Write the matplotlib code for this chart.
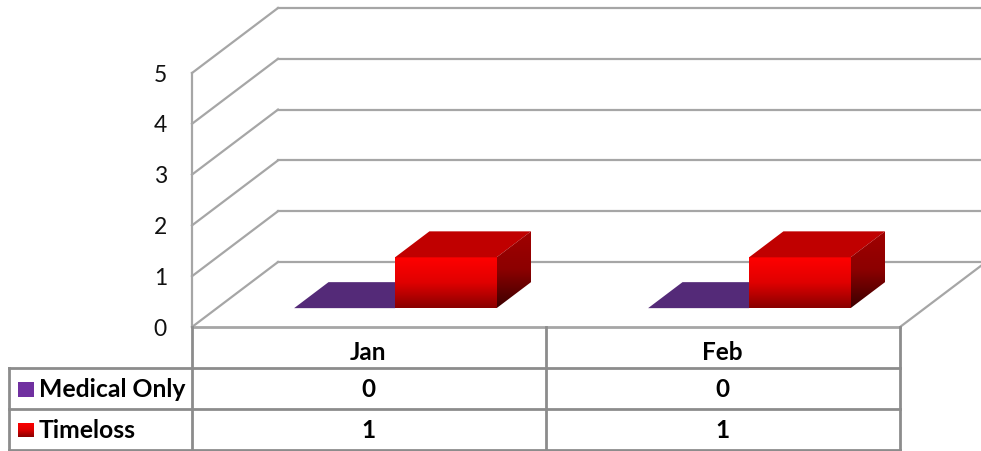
import matplotlib
matplotlib.use("Agg")
import matplotlib.pyplot as plt
from matplotlib.colors import LinearSegmentedColormap
from matplotlib.patches import Polygon
import numpy as np

plt.rcParams['font.family'] = ['Lato', 'DejaVu Sans']

categories = ["Jan", "Feb"]
series_names = ["Medical Only", "Timeloss"]
medical_only = [0, 0]
timeloss = [1, 1]
y_ticks = [0, 1, 2, 3, 4, 5]

# oblique projection settings, in pixels
X0, Y0 = 192, 327
CAT_W = 354
UNIT = 50.8
DEPTH_X, DEPTH_Y = 86, 65
GRID = "#a6a6a6"
TABLE = "#8c8c8c"
FRONT = ["#ff0000", "#e00000", "#8a0000"]


def project(cat, value, depth):
    x = X0 + cat * CAT_W + depth * DEPTH_X
    y = Y0 - value * UNIT - depth * DEPTH_Y
    return x, y


def gradient(ax, points, colors, angle=90):
    poly = Polygon(points, closed=True, fc="none", ec="none")
    ax.add_patch(poly)
    xs = [p[0] for p in points]
    ys = [p[1] for p in points]
    t = np.linspace(0, 1, 64)
    xx, yy = np.meshgrid(t, t)
    a = np.radians(angle)
    g = xx * np.cos(a) + yy * np.sin(a)
    g = (g - g.min()) / (g.max() - g.min())
    cmap = LinearSegmentedColormap.from_list("g", colors)
    im = ax.imshow(g, cmap=cmap, extent=[min(xs), max(xs), max(ys), min(ys)],
                   aspect="auto", zorder=4, interpolation="bilinear")
    im.set_clip_path(poly)


def box(ax, left, right, value, d0, d1):
    a = project(left, 0, d0)
    b = project(right, 0, d0)
    c = project(right, value, d0)
    e = project(left, value, d0)
    f = project(left, value, d1)
    g = project(right, value, d1)
    h = project(right, 0, d1)
    gradient(ax, [e, c, b, a], FRONT)
    ax.add_patch(Polygon([e, c, g, f], closed=True, fc="#c00000", ec="none", zorder=4))
    gradient(ax, [c, g, h, b], ["#a00000", "#8c0000", "#3c0000"])


fig = plt.figure(figsize=(9.81, 4.51), dpi=100)
ax = fig.add_axes([0, 0, 1, 1])

# walls
for v in y_ticks:
    p0 = project(0, v, 0)
    p1 = project(0, v, 1)
    ax.plot([p0[0], p1[0]], [p0[1], p1[1]], color=GRID, lw=1.6, zorder=1)
    ax.plot([p1[0], 981], [p1[1], p1[1]], color=GRID, lw=1.6, zorder=1)
    ax.text(167, p0[1] + 2, str(v), ha="right", va="center", fontsize=16.5, color="#111111")
ax.plot([X0, X0], [project(0, 5, 0)[1], Y0], color=GRID, lw=1.6, zorder=1)
end = project(2, 0, 0)
ax.plot([end[0], 981], [end[1], end[1] - (981 - end[0]) * DEPTH_Y / DEPTH_X], color=GRID, lw=1.6, zorder=1)

# bars
D0, D1 = 0.29, 0.69
for i in range(len(categories)):
    l, m, r = i + 0.218, i + 0.503, i + 0.79
    pts = [project(l, medical_only[i], D0), project(m, medical_only[i], D0),
           project(m, medical_only[i], D1), project(l, medical_only[i], D1)]
    ax.add_patch(Polygon(pts, closed=True, fc="#542a78", ec="none", zorder=3))
    box(ax, m, r, timeloss[i], D0, D1)

# data table
col_x = [X0 + k * CAT_W for k in range(len(categories) + 1)]
row_y = [327, 368, 409, 450]
left = 9
ax.plot([col_x[0], col_x[-1]], [row_y[0], row_y[0]], color=GRID, lw=2, zorder=2)
for y in row_y[1:]:
    ax.plot([left, col_x[-1]], [y, y], color=TABLE, lw=2, zorder=2)
ax.plot([left, left], [row_y[1], row_y[-1]], color=TABLE, lw=2, zorder=2)
for x in col_x:
    ax.plot([x, x], [row_y[0], row_y[-1]], color=TABLE, lw=2, zorder=2)

rows = [medical_only, timeloss]
for i, cat in enumerate(categories):
    cx = (col_x[i] + col_x[i + 1]) / 2 - 1
    ax.text(cx, (row_y[0] + row_y[1]) / 2 + 5, cat, ha="center", va="center",
            fontsize=17.5, fontweight="bold", color="black")
    for j, vals in enumerate(rows):
        ax.text(cx, (row_y[j + 1] + row_y[j + 2]) / 2 + 1, str(vals[i]), ha="center", va="center",
                fontsize=17.5, fontweight="bold", color="black")

# legend keys inside the table
for j, name in enumerate(series_names):
    cy = (row_y[j + 1] + row_y[j + 2]) / 2
    ax.text(39, cy + 1, name, ha="left", va="center", fontsize=17.8, fontweight="bold", color="black")
    key = [(18, cy - 7), (34, cy - 7), (34, cy + 8), (18, cy + 8)]
    if j == 0:
        ax.add_patch(Polygon(key, closed=True, fc="#7030a0", ec="none", zorder=4))
    else:
        gradient(ax, key, FRONT)

ax.set_xlim(0, 981)
ax.set_ylim(451, 0)
ax.axis("off")
fig.savefig("out.png", dpi=100, facecolor="white")
